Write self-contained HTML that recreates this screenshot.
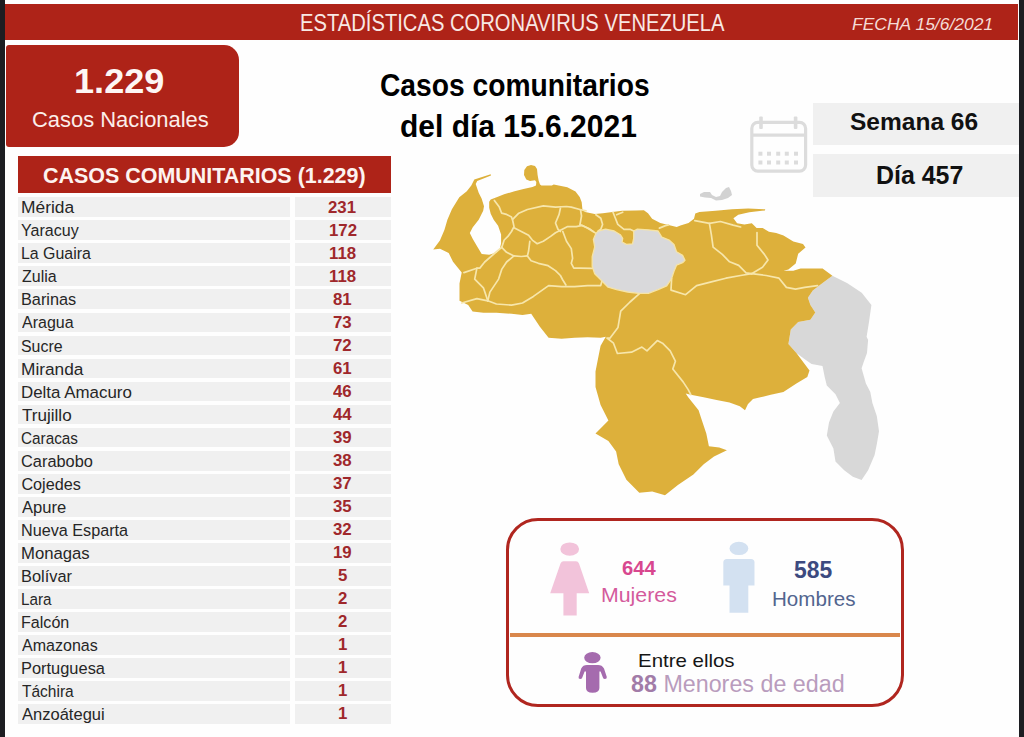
<!DOCTYPE html>
<html lang="es"><head><meta charset="utf-8"><title>Estadísticas Coronavirus Venezuela</title>
<style>
*{margin:0;padding:0;box-sizing:border-box}
html,body{width:1024px;height:737px;overflow:hidden;background:#fefefe}
body{position:relative;font-family:'Liberation Sans', Arial, sans-serif}
.bl{position:absolute;top:0;bottom:0;width:5px;background:#1c1d21}
.hdrbar{position:absolute;left:5px;top:3.6px;width:1013px;height:36.6px;background:#ae2318}
.nbox{position:absolute;left:6px;top:45.2px;width:233px;height:102.3px;background:#ae2318;border-radius:3px 15px 15px 3px}
.sbox{position:absolute;left:813.4px;width:205.6px;background:#f0f0f0}
.th{position:absolute;left:18px;top:155.5px;width:373px;height:37px;background:#ae2318}
.rl,.rr{position:absolute;height:19.8px;background:#f0f0f0}
.rl{left:18px;width:272.3px}
.rr{left:294.5px;width:96.5px}
.t{position:absolute;white-space:nowrap;line-height:1;transform-origin:0 0}
.nm{font-size:16.23px;color:#262626}
.nu{font-size:17.39px;font-weight:700;color:#9f272b}
svg{position:absolute;left:0;top:0}
.gbox{position:absolute;left:506px;top:517.6px;width:397.5px;height:189px;border:3.8px solid #b0261f;border-radius:32px}
.oline{position:absolute;left:509.5px;top:633px;width:390.5px;height:3.6px;background:#d9874c}
</style></head><body>
<div class="bl" style="left:0"></div><div class="bl" style="right:0"></div>
<div class="hdrbar"></div>
<div class="nbox"></div>
<div class="sbox" style="top:102.7px;height:42.6px"></div>
<div class="sbox" style="top:153.6px;height:43.1px"></div>
<div class="th"></div>
<div class="rl" style="top:197.30px"></div><div class="rr" style="top:197.30px"></div><div class="t nm" style="left:21.33px;top:199.29px;transform:scaleX(1.0714)">Mérida</div><div class="t nu" style="left:328.08px;top:198.51px;transform:scaleX(0.9679)">231</div><div class="rl" style="top:220.34px"></div><div class="rr" style="top:220.34px"></div><div class="t nm" style="left:21.41px;top:222.33px;transform:scaleX(0.9895)">Yaracuy</div><div class="t nu" style="left:328.57px;top:221.55px;transform:scaleX(0.9679)">172</div><div class="rl" style="top:243.38px"></div><div class="rr" style="top:243.38px"></div><div class="t nm" style="left:21.42px;top:245.37px;transform:scaleX(0.9800)">La Guaira</div><div class="t nu" style="left:328.57px;top:244.59px;transform:scaleX(0.9679)">118</div><div class="rl" style="top:266.42px"></div><div class="rr" style="top:266.42px"></div><div class="t nm" style="left:22.40px;top:268.41px;transform:scaleX(0.9857)">Zulia</div><div class="t nu" style="left:328.57px;top:267.63px;transform:scaleX(0.9679)">118</div><div class="rl" style="top:289.46px"></div><div class="rr" style="top:289.46px"></div><div class="t nm" style="left:21.40px;top:291.45px;transform:scaleX(1.0037)">Barinas</div><div class="t nu" style="left:333.41px;top:290.67px;transform:scaleX(0.9679)">81</div><div class="rl" style="top:312.50px"></div><div class="rr" style="top:312.50px"></div><div class="t nm" style="left:22.40px;top:314.49px;transform:scaleX(0.9865)">Aragua</div><div class="t nu" style="left:332.92px;top:313.71px;transform:scaleX(0.9679)">73</div><div class="rl" style="top:335.54px"></div><div class="rr" style="top:335.54px"></div><div class="t nm" style="left:21.42px;top:337.53px;transform:scaleX(0.9805)">Sucre</div><div class="t nu" style="left:332.92px;top:336.75px;transform:scaleX(0.9679)">72</div><div class="rl" style="top:358.58px"></div><div class="rr" style="top:358.58px"></div><div class="t nm" style="left:21.33px;top:360.57px;transform:scaleX(1.0655)">Miranda</div><div class="t nu" style="left:332.92px;top:359.79px;transform:scaleX(0.9679)">61</div><div class="rl" style="top:381.62px"></div><div class="rr" style="top:381.62px"></div><div class="t nm" style="left:21.36px;top:383.61px;transform:scaleX(1.0419)">Delta Amacuro</div><div class="t nu" style="left:333.41px;top:382.83px;transform:scaleX(0.9679)">46</div><div class="rl" style="top:404.66px"></div><div class="rr" style="top:404.66px"></div><div class="t nm" style="left:22.40px;top:406.65px;transform:scaleX(1.0532)">Trujillo</div><div class="t nu" style="left:332.92px;top:405.87px;transform:scaleX(0.9679)">44</div><div class="rl" style="top:427.70px"></div><div class="rr" style="top:427.70px"></div><div class="t nm" style="left:21.46px;top:429.69px;transform:scaleX(0.9441)">Caracas</div><div class="t nu" style="left:333.41px;top:428.91px;transform:scaleX(0.9679)">39</div><div class="rl" style="top:450.74px"></div><div class="rr" style="top:450.74px"></div><div class="t nm" style="left:21.39px;top:452.73px;transform:scaleX(1.0100)">Carabobo</div><div class="t nu" style="left:333.41px;top:451.95px;transform:scaleX(0.9679)">38</div><div class="rl" style="top:473.78px"></div><div class="rr" style="top:473.78px"></div><div class="t nm" style="left:21.40px;top:475.77px;transform:scaleX(1.0000)">Cojedes</div><div class="t nu" style="left:333.41px;top:474.99px;transform:scaleX(0.9679)">37</div><div class="rl" style="top:496.82px"></div><div class="rr" style="top:496.82px"></div><div class="t nm" style="left:22.40px;top:498.81px;transform:scaleX(1.0233)">Apure</div><div class="t nu" style="left:333.41px;top:498.03px;transform:scaleX(0.9679)">35</div><div class="rl" style="top:519.86px"></div><div class="rr" style="top:519.86px"></div><div class="t nm" style="left:21.40px;top:521.85px;transform:scaleX(0.9981)">Nueva Esparta</div><div class="t nu" style="left:333.41px;top:521.07px;transform:scaleX(0.9679)">32</div><div class="rl" style="top:542.90px"></div><div class="rr" style="top:542.90px"></div><div class="t nm" style="left:21.37px;top:544.89px;transform:scaleX(1.0292)">Monagas</div><div class="t nu" style="left:332.92px;top:544.11px;transform:scaleX(0.9679)">19</div><div class="rl" style="top:565.94px"></div><div class="rr" style="top:565.94px"></div><div class="t nm" style="left:21.39px;top:567.93px;transform:scaleX(1.0102)">Bolívar</div><div class="t nu" style="left:337.76px;top:567.15px;transform:scaleX(0.9679)">5</div><div class="rl" style="top:588.98px"></div><div class="rr" style="top:588.98px"></div><div class="t nm" style="left:21.46px;top:590.97px;transform:scaleX(0.9406)">Lara</div><div class="t nu" style="left:337.76px;top:590.19px;transform:scaleX(0.9679)">2</div><div class="rl" style="top:612.02px"></div><div class="rr" style="top:612.02px"></div><div class="t nm" style="left:21.41px;top:614.01px;transform:scaleX(0.9915)">Falcón</div><div class="t nu" style="left:337.76px;top:613.23px;transform:scaleX(0.9679)">2</div><div class="rl" style="top:635.06px"></div><div class="rr" style="top:635.06px"></div><div class="t nm" style="left:22.40px;top:637.05px;transform:scaleX(0.9882)">Amazonas</div><div class="t nu" style="left:337.76px;top:636.27px;transform:scaleX(0.9679)">1</div><div class="rl" style="top:658.10px"></div><div class="rr" style="top:658.10px"></div><div class="t nm" style="left:21.39px;top:660.09px;transform:scaleX(1.0122)">Portuguesa</div><div class="t nu" style="left:337.76px;top:659.31px;transform:scaleX(0.9679)">1</div><div class="rl" style="top:681.14px"></div><div class="rr" style="top:681.14px"></div><div class="t nm" style="left:22.40px;top:683.13px;transform:scaleX(0.9556)">Táchira</div><div class="t nu" style="left:337.76px;top:682.35px;transform:scaleX(0.9679)">1</div><div class="rl" style="top:704.18px"></div><div class="rr" style="top:704.18px"></div><div class="t nm" style="left:22.40px;top:706.17px;transform:scaleX(1.0188)">Anzoátegui</div><div class="t nu" style="left:337.76px;top:705.39px;transform:scaleX(0.9679)">1</div>
<svg class="map" width="1024" height="737" viewBox="0 0 1024 737">
<polygon points="832.4,275.7 847,283 861.7,292.8 871.4,305 869,322.1 866.6,336.8 868.1,340 867,353 863.8,361.7 861.6,368.2 865.9,383.4 870.3,392.1 872.4,403 876.8,416 879,431.2 876.8,444.2 874.6,455.1 868.1,470.3 861.6,480 852.9,476.8 844.2,470.3 835.5,461.6 833.4,448.6 826.8,435.5 829,422.5 833.4,411.6 839.9,403 835.5,394.3 826.8,385.6 824.7,376.9 822.5,366.1 811.6,363.9 805.1,359.5 796.4,353 788.4,344.1 790.8,329.5 798.2,322.1 810.4,319.7 815.3,312.4 810.4,305 807.9,297.7 812.8,290.4 822.6,283" fill="#d8d8d8"/>
<polygon points="433.2,249.6 439.9,240.6 444.4,230.1 447.4,219.7 451.9,209.3 459.3,197.3 466.8,191.3 471.3,185.4 474.3,179.4 490.7,174.2 491,175.6 477.2,180.9 475.7,183.9 478.7,192.8 481.7,198.8 484,206.3 483.2,210.7 478.7,219.7 472.8,227.2 469.8,233.1 472.8,239.1 477.2,246.6 481.7,254 489.2,254.8 496.6,252.5 499.6,249.6 501.1,243.6 501.1,234.6 498.1,225.7 493.7,219.7 490.7,213.7 489.2,207.8 489.2,201.8 490.7,199.6 496.6,197.3 504.1,194.3 514.6,191.3 523.5,189.1 532.5,186.9 536,185.5 536.3,182 535,180.2 530,181 526.3,179.5 524,175 524.3,170 527,166.3 531,165 535,166 537,169 537.6,175 538.6,180.5 540,184.5 541.4,185.4 551.9,185.4 553.7,184.6 567.3,187.3 575.5,191.4 579.7,196.9 581.7,202.3 582.4,209.2 585.1,211.9 594.7,214 602.9,213.3 612.5,211.9 622,210.8 635.7,210.5 643.9,210.3 648,213.3 652.1,218.8 660.3,222.9 668.5,224.9 676.7,227 680.4,225.6 688.5,222.9 694,218.8 695.3,213.4 699.4,212.1 715.7,210.7 732,209.3 748.2,208.5 765.2,209.3 765,210.5 749.3,212.2 738.3,214.7 733.4,218.3 737.1,223.2 744.4,224.4 751.8,223.2 756.6,228.1 762.7,228.1 768.9,231.8 776.2,233 783.5,235.4 793.3,241.5 803,244 805.5,247.6 798.2,253.7 795.7,263.5 788.4,269.6 783.5,270.8 793.3,270.8 800.6,268.4 812.8,268.4 822.6,268.4 832.4,275.7 822.6,283 812.8,290.4 807.9,297.7 810.4,305 815.3,312.4 810.4,319.7 798.2,322.1 790.8,329.5 788.4,344.1 796.4,353 809.5,370.4 807.3,376.9 796.4,383.4 783.4,392.1 770.7,394.7 760.4,397.3 753,399 748,404 745,410.2 739.8,406.3 729.5,402.5 716.6,399.9 703.7,397.3 690.8,394.7 685.7,393.5 688.2,397.3 698.6,410.2 701.1,417.9 706.3,433.4 708.9,446.3 719.2,447.6 726.9,450.2 714,456.6 703.7,464.3 693.4,474.6 677.9,485 665,495.3 652.2,491.4 639.3,492.7 626.4,479.8 618.7,464.3 616.1,451.4 608.4,441.1 595.5,433.4 608.4,420.5 600.6,405 595.5,387 595.5,371.5 598,358.7 600.6,345.8 605.8,336.8 600.7,337.7 587.6,337.3 574.6,337.7 561.6,338.8 548.6,337.7 539.9,326.8 531.2,313.8 522.5,314.9 511.6,313.8 496.4,312.7 483.4,312.7 472.6,311.6 468.2,305.1 459.5,300.8 459.5,283.4 461.7,272.6 453,261.7 448.7,253 440,248.7" fill="#ddb03b"/>
<g fill="none" stroke="#f7e6ab" stroke-width="1.7" stroke-linejoin="round" stroke-linecap="round">
<polyline points="494.4,200.4 499.3,207.1 501.7,213.2 506.6,214.4 511.5,216.9 512.7,220.5 514,226.6 511.5,231.5 507.9,236.4 504.2,240 501.7,247.4"/>
<polyline points="512.7,219.3 518.8,213.2 527.4,209.5 543.3,205.9 555.5,207.1 566.5,206.5 571.3,207.1 579.9,209.5 586,210.8"/>
<polyline points="560.4,208.3 559.1,214.4 555.5,223 557.9,229.1 560.4,231.5"/>
<polyline points="514,227.8 521.3,231.5 528.6,235.2 532.3,240.1 537.2,243.7 543.3,241.3 550.6,236.4 555.5,232.7 560.4,230.3 567.7,226.6 576.2,226.6 582.3,225.4 590,229.1 595.9,233.4"/>
<polyline points="529.8,241.3 528.6,251 527.4,255.9 531.1,260.8 538.4,263.3 548.1,265.7 555.5,270.6 560.4,275.5 562.8,280 565.9,285"/>
<polyline points="580.5,209.5 581.5,216 580,224.4"/>
<polyline points="562.8,231.5 566.5,241.3 571.3,248.6 572.6,258.4 571.3,263.3 573.8,268.1 579.9,268.1 592.2,268.4"/>
<polyline points="501.7,247.4 506.6,252.3 514,255.9 521.3,256.5 527.4,255.9"/>
<polyline points="514,255.9 506.6,262 501.7,269.4 498.6,279.1 489.9,292.1 487.8,300.8"/>
<polyline points="501.7,247.4 494.4,253.5 484.7,262 479.8,268.1 476.9,268.2 463.9,272.6"/>
<polyline points="476.9,268.2 474.7,279.1 483.4,287.8 487.8,300.8"/>
<polyline points="461.7,303 476.9,298.6 487.8,300.8"/>
<polyline points="487.8,300.8 496.4,304 511.6,305.1 522.5,303 533.4,296.4 548.6,285.6 561.6,286.7 574.6,286.7 587.6,285.6 600.7,285.6 602,281"/>
<polyline points="595.9,214.7 600.8,218.3 602.6,224.4 600.8,229.3 598.3,231"/>
<polyline points="613,212.2 615.4,218.3 617.8,224.4 624,229.3 630,229.3 633.7,231"/>
<polyline points="616.6,214.7 622.7,212.2"/>
<polyline points="580,224.4 587.3,228.1 593.4,231.7"/>
<polyline points="659.4,228.1 665.5,225.6 668.5,224.9"/>
<polyline points="694.8,220.6 709.4,223.3 720.4,221.5 733.2,225.1 740.6,227"/>
<polyline points="709.4,223.3 711.3,234.3 713.1,247.1 722.3,254.4 729.6,261.8 738.7,265.4 746.1,272.8 751.6,273.7"/>
<polyline points="757,232.5 757,245.3 764.4,254.4 768,260 762.5,267.3 751.6,273.7"/>
<polyline points="671.6,278.6 671,290.1 685.6,294.7 696.6,285.6 711.3,281.9 725.9,278.2 740.6,275.5 751.6,273.7 766.2,275.5 779,278.2 786.4,287.4 795.5,289.2 804.7,287.4 817.5,285.6"/>
<polyline points="639.7,293.3 630,302 620.7,311.1 618,327.4 609.9,338.2 607,338 613.5,343.2 617.4,353.5 631.5,352.2 641.9,347.1 647,350.9 657.3,340.6 662.5,343.2 670.2,350.9 675.4,361.2 672.8,369 683.1,381.9 688.2,389.6 690.8,394.7"/>
</g>
<polygon points="598.3,231 605.6,229.2 614.2,231 620.3,234.7 622.7,238.3 622.1,242 626.4,244.4 632.5,243.8 633.7,238.3 633.7,231 637.4,229.2 648.4,229.8 658.1,231 661.8,237.1 669.1,240.1 674,244.4 676.5,251.7 682.6,255.4 685,260.3 682.6,262.7 676.5,265.2 674,271.3 671.6,278.6 666.7,285.9 658.1,289.6 648.4,293.3 638.6,293.3 627.6,292 616.6,289.6 608.1,287.2 602,281 594.7,273.7 592.2,266.4 592.2,256.6 594.7,246.9 593.4,239.5 595.9,233.4" fill="#d9d9db" stroke="#f6e4a6" stroke-width="1.3" stroke-linejoin="round"/>
<polygon points="700,194 704,192 710,192 712,195 716,197 720,196 722,192 726,188 729,187 731,191 732,195 728,198 722,200 716,200.5 711,198 705,197.5 700,196.5" fill="#d2d2d2"/>
</svg>
<svg class="cal" width="1024" height="737" viewBox="0 0 1024 737">
<g fill="none" stroke="#dcdcdc" stroke-width="3.2">
<rect x="751.8" y="122.4" width="53.8" height="48.7" rx="6"/>
<line x1="751.8" y1="135.2" x2="805.6" y2="135.2"/>
</g>
<g fill="#dcdcdc">
<rect x="759.2" y="116.5" width="3.6" height="12.5" rx="1"/>
<rect x="793.8" y="116.5" width="3.6" height="12.5" rx="1"/>
<rect x="758.4" y="151.7" width="4" height="4"/><rect x="767.0" y="151.7" width="4" height="4"/><rect x="776.2" y="151.7" width="4" height="4"/><rect x="784.8" y="151.7" width="4" height="4"/><rect x="794.0" y="151.7" width="4" height="4"/><rect x="758.4" y="160.5" width="4" height="4"/><rect x="767.0" y="160.5" width="4" height="4"/><rect x="776.2" y="160.5" width="4" height="4"/><rect x="784.8" y="160.5" width="4" height="4"/><rect x="794.0" y="160.5" width="4" height="4"/>
</g></svg>
<div class="gbox"></div>
<div class="oline"></div>
<svg class="ico" width="1024" height="737" viewBox="0 0 1024 737">
<ellipse cx="569.7" cy="549.1" rx="9.4" ry="6.7" fill="#f2c3da"/>
<path d="M563.5 561.2 L576 561.2 Q578 561.2 579 563.5 L589.2 593.3 L576.7 593.3 L576.7 615.6 L563.4 615.6 L563.4 593.3 L550.2 593.3 L560.5 563.5 Q561.5 561.2 563.5 561.2 Z" fill="#f2c3da"/>
<ellipse cx="738.9" cy="548.4" rx="9.4" ry="6.7" fill="#d3e1f1"/>
<path d="M727 558.9 L751 558.9 Q754.5 558.9 754.5 562.5 L754.5 585.5 L748.3 585.5 L748.3 612.8 L729.5 612.8 L729.5 585.5 L723.3 585.5 L723.3 562.5 Q723.3 558.9 727 558.9 Z" fill="#d3e1f1"/>
<ellipse cx="592.4" cy="657.7" rx="8.2" ry="5.6" fill="#a56bae"/>
<path d="M587 665.1 L598 665.1 Q602 665.1 604 668.5 L606.8 677 Q607 679 605 679 Q603.4 679 602.9 677.4 L600.6 671.5 L599.4 671.5 L599.4 688 Q599.4 692.8 592.6 692.8 Q586 692.8 586 688 L586 671.5 L584.6 671.5 L582.3 677.4 Q581.8 679 580.2 679 Q578.2 679 578.6 677 L581.2 668.5 Q583 665.1 587 665.1 Z" fill="#a56bae"/>
</svg>
<div class="t" style="left:299.85px;top:11.53px;font-size:23.04px;font-weight:400;font-style:normal;color:#f8e8e4;transform:scaleX(0.8768)">ESTADÍSTICAS CORONAVIRUS VENEZUELA</div><div class="t" style="left:851.79px;top:16.10px;font-size:17.39px;font-weight:400;font-style:italic;color:#f5dcd6;transform:scaleX(1.0058)">FECHA 15/6/2021</div><div class="t" style="left:74.37px;top:63.87px;font-size:35.65px;font-weight:700;font-style:normal;color:#fdf6f4;transform:scaleX(1.0140)">1.229</div><div class="t" style="left:31.72px;top:108.94px;font-size:22.32px;font-weight:400;font-style:normal;color:#fbeeea;transform:scaleX(0.9831)">Casos Nacionales</div><div class="t" style="left:380.11px;top:70.10px;font-size:31.59px;font-weight:700;font-style:normal;color:#000;transform:scaleX(0.8933)">Casos comunitarios</div><div class="t" style="left:399.55px;top:110.63px;font-size:31.45px;font-weight:700;font-style:normal;color:#000;transform:scaleX(0.9543)">del día 15.6.2021</div><div class="t" style="left:850.39px;top:109.83px;font-size:24.35px;font-weight:700;font-style:normal;color:#111;transform:scaleX(1.0071)">Semana 66</div><div class="t" style="left:875.73px;top:163.27px;font-size:25.36px;font-weight:700;font-style:normal;color:#111;transform:scaleX(0.9837)">Día 457</div><div class="t" style="left:42.66px;top:163.97px;font-size:22.75px;font-weight:700;font-style:normal;color:#fdf3f0;transform:scaleX(0.9429)">CASOS COMUNITARIOS (1.229)</div><div class="t" style="left:621.81px;top:558.16px;font-size:20.29px;font-weight:700;font-style:normal;color:#d8478f;transform:scaleX(0.9939)">644</div><div class="t" style="left:601.15px;top:585.72px;font-size:19.86px;font-weight:400;font-style:normal;color:#d45a9c;transform:scaleX(1.0735)">Mujeres</div><div class="t" style="left:794.34px;top:558.12px;font-size:23.77px;font-weight:700;font-style:normal;color:#3c4a80;transform:scaleX(0.9632)">585</div><div class="t" style="left:771.53px;top:590.02px;font-size:19.86px;font-weight:400;font-style:normal;color:#52658f;transform:scaleX(1.0359)">Hombres</div><div class="t" style="left:638.03px;top:651.03px;font-size:19.13px;font-weight:400;font-style:normal;color:#161616;transform:scaleX(1.0697)">Entre ellos</div><div class="t" style="left:630.79px;top:673.03px;font-size:23.04px;font-weight:400;font-style:normal;color:#b99cbd;transform:scaleX(1.0110)"><b style="color:#a27ca8">88</b> Menores de edad</div>
</body></html>
